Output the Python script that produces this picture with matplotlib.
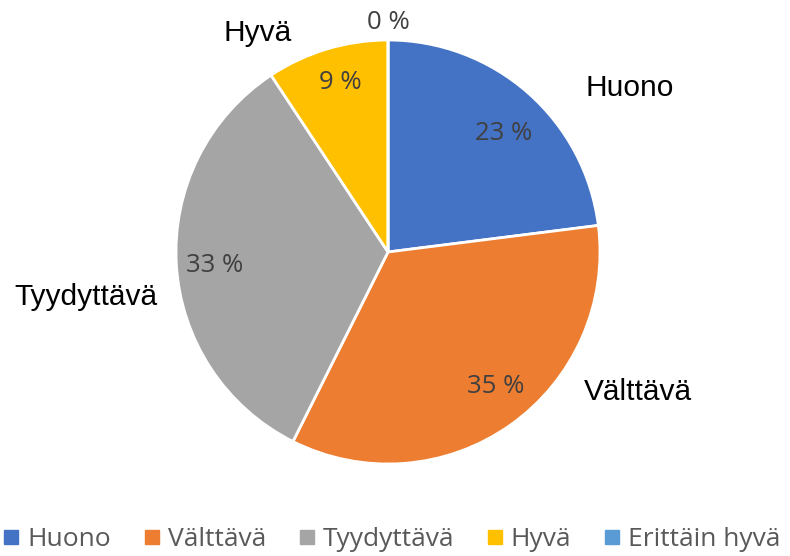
import matplotlib
matplotlib.use("Agg")
import matplotlib.pyplot as plt
from matplotlib.lines import Line2D

categories = ["Huono", "Välttävä", "Tyydyttävä", "Hyvä", "Erittäin hyvä"]
# slice shares (labels show rounded values)
values = [23.0, 34.4, 33.3, 9.3, 0.0]
pct_labels = ["23 %", "35 %", "33 %", "9 %", "0 %"]
colors = ["#4472C4", "#ED7D31", "#A5A5A5", "#FFC000", "#5B9BD5"]

W, H = 790, 556
fig = plt.figure(figsize=(W / 100, H / 100), dpi=100)
cx, cy, R = 388, 252, 212
ax = fig.add_axes([(cx - R) / W, (H - cy - R) / H, 2 * R / W, 2 * R / H])

wedges, _ = ax.pie(values, colors=colors, startangle=90, counterclock=False,
                   radius=1, wedgeprops=dict(edgecolor="white", linewidth=2))
ax.set_xlim(-1, 1)
ax.set_ylim(-1, 1)
ax.set_aspect("equal")
ax.axis("off")

pct_font = "Open Sans"
lab_font = "Liberation Sans"

# data-label placement (pixel x-centre, baseline y) as in the reference layout
pct_pos = [(504, 140), (496, 393), (215, 272), (340, 89), (388, 29)]
for txt, (px, py) in zip(pct_labels, pct_pos):
    fig.text(px / W, 1 - py / H, txt, ha="center", va="baseline",
             fontsize=18.5, color="#404040", family=pct_font)

label_pos = {"Huono": (630, 96), "Välttävä": (638, 400),
             "Tyydyttävä": (86, 305), "Hyvä": (258, 41)}
for name, (px, py) in label_pos.items():
    fig.text(px / W, 1 - py / H, name, ha="center", va="baseline",
             fontsize=21.5, color="black", family=lab_font)

handles = [Line2D([], [], marker="s", linestyle="none", markersize=9.5,
                  markerfacecolor=c, markeredgecolor=c) for c in colors]
leg = fig.legend(handles, categories, loc="center", bbox_to_anchor=(0.497, 1 - 540 / H),
                 ncol=5, frameon=False, handlelength=0.5, handletextpad=0.35,
                 columnspacing=1.3, borderaxespad=0, borderpad=0,
                 prop=dict(family=pct_font, size=19))
for t in leg.get_texts():
    t.set_color("#595959")

fig.savefig("out.png", dpi=100, facecolor="white")
